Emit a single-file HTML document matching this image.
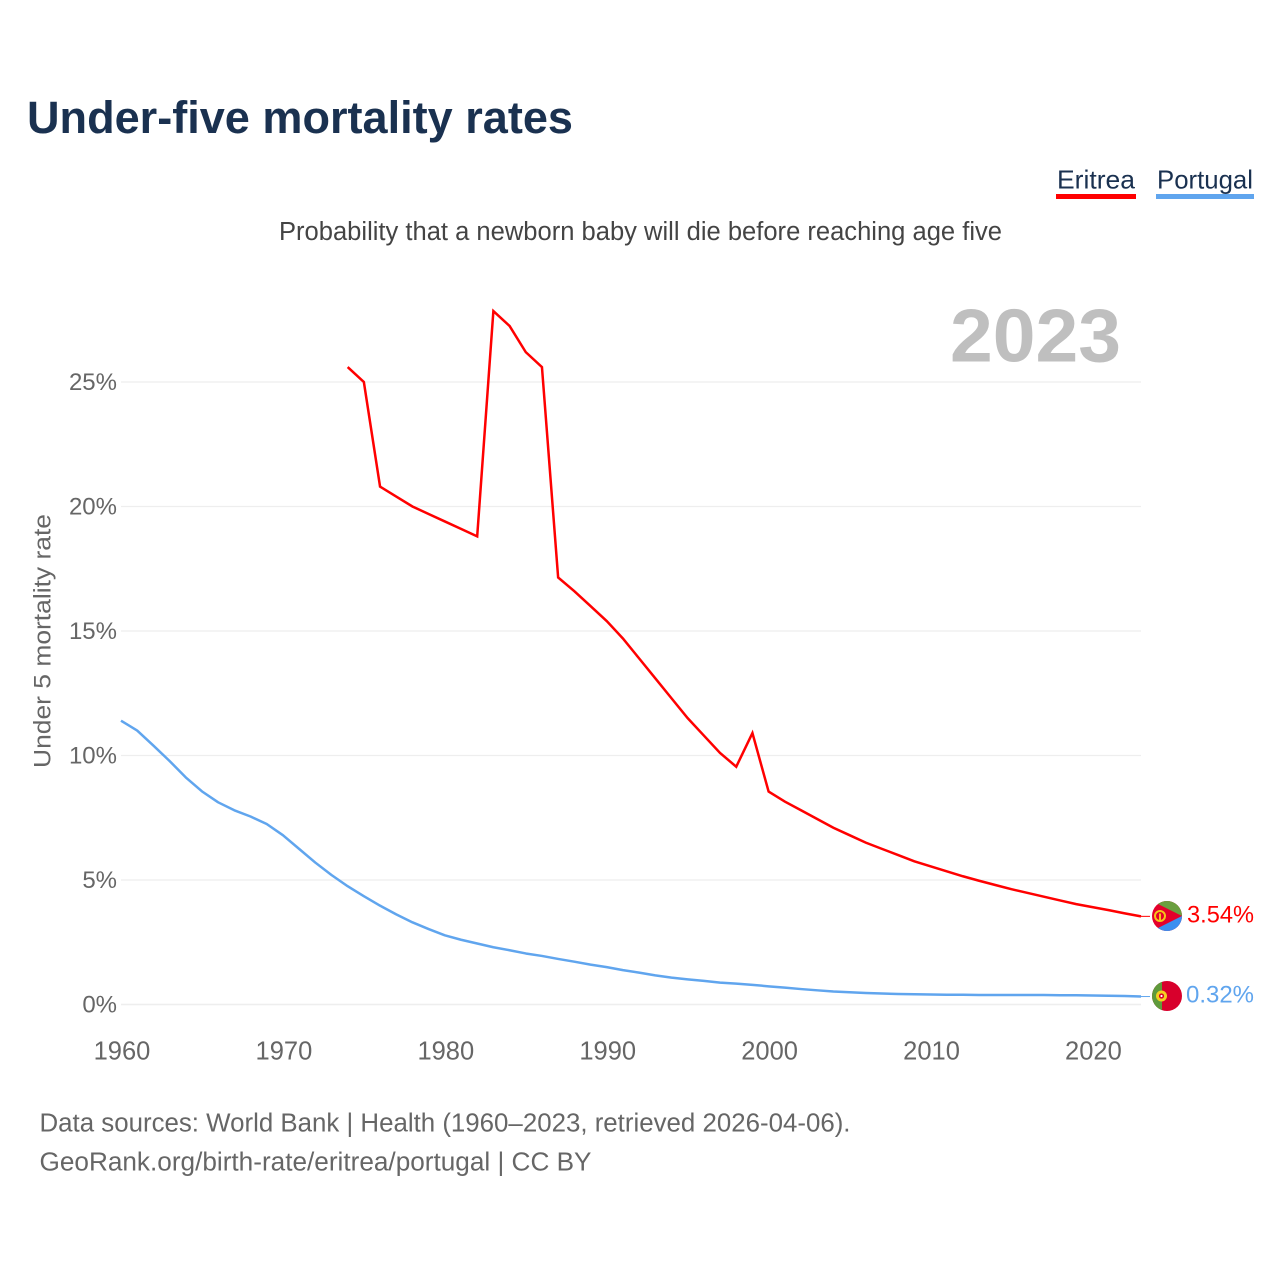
<!DOCTYPE html>
<html lang="en">
<head>
<meta charset="utf-8">
<title>Under-five mortality rates</title>
<style>
html,body{margin:0;padding:0;background:#fff;}
svg{display:block;}
text{font-family:"Liberation Sans",sans-serif;}
</style>
</head>
<body>
<svg id="chart" xmlns="http://www.w3.org/2000/svg" width="1280" height="1280" viewBox="0 0 1280 1280">
  <rect x="0" y="0" width="1280" height="1280" fill="#ffffff"/>
  <text x="27" y="133" font-size="45" font-weight="700" fill="#1a3150" textLength="546" lengthAdjust="spacingAndGlyphs">Under-five mortality rates</text>
  <g>
    <text x="1057" y="188.5" font-size="26" fill="#1a3150" textLength="78" lengthAdjust="spacingAndGlyphs">Eritrea</text>
    <rect x="1056" y="194" width="80" height="5" fill="#ff0000"/>
  </g>
  <g>
    <text x="1157" y="188.5" font-size="26" fill="#1a3150" textLength="96" lengthAdjust="spacingAndGlyphs">Portugal</text>
    <rect x="1156" y="194" width="98" height="5" fill="#60a5ee"/>
  </g>
  <text x="279" y="240" font-size="25.5" fill="#444444" textLength="723" lengthAdjust="spacingAndGlyphs">Probability that a newborn baby will die before reaching age five</text>
  <g id="grid"></g>
  <g id="yticks"></g>
  <g id="xticks"></g>
  <text transform="translate(50.5 768) rotate(-90)" x="0" y="0" font-size="24" fill="#666666" textLength="254" lengthAdjust="spacingAndGlyphs">Under 5 mortality rate</text>
  <text x="950" y="361.5" font-size="75" font-weight="700" fill="#bfbfbf" textLength="171" lengthAdjust="spacingAndGlyphs">2023</text>
  <g id="series"></g>

  <defs>
    <clipPath id="clip-er"><circle cx="1167" cy="916" r="15"/></clipPath>
    <clipPath id="clip-pt"><circle cx="1167" cy="996" r="15"/></clipPath>
  </defs>
  <g clip-path="url(#clip-er)">
    <rect x="1152" y="901" width="30" height="30" fill="#e4002b"/>
    <polygon points="1152,901 1182,901 1182,916" fill="#6a9f3f"/>
    <polygon points="1152,931 1182,931 1182,916" fill="#3b8ff0"/>
    <circle cx="1160" cy="916" r="5" fill="none" stroke="#f5c518" stroke-width="2"/>
    <rect x="1159" y="913.5" width="2" height="7" fill="#f5c518"/>
  </g>
  <g clip-path="url(#clip-pt)">
    <rect x="1152" y="981" width="30" height="30" fill="#d8002c"/>
    <rect x="1152" y="981" width="10" height="30" fill="#5f9a3c"/>
    <circle cx="1161.5" cy="996" r="5.5" fill="#f5d020"/>
    <circle cx="1161.5" cy="996" r="2.6" fill="#d8002c"/>
    <circle cx="1161.5" cy="996" r="1.1" fill="#ffffff"/>
  </g>
  <text x="1187" y="922.5" font-size="24.5" fill="#ff0000" textLength="67" lengthAdjust="spacingAndGlyphs">3.54%</text>
  <text x="1186" y="1002.5" font-size="24.5" fill="#60a5ee" textLength="68" lengthAdjust="spacingAndGlyphs">0.32%</text>
  <text x="39.5" y="1131.5" font-size="25.5" fill="#666666" textLength="811" lengthAdjust="spacingAndGlyphs">Data sources: World Bank | Health (1960–2023, retrieved 2026-04-06).</text>
  <text x="39.5" y="1170.5" font-size="25.5" fill="#666666" textLength="552" lengthAdjust="spacingAndGlyphs">GeoRank.org/birth-rate/eritrea/portugal | CC BY</text>
</svg>
<script>
const yTickValues = [0, 5, 10, 15, 20, 25];
const xTickYears = [1960, 1970, 1980, 1990, 2000, 2010, 2020];
const eritreaStartYear = 1974;
const eritreaValues = [25.6, 25.0, 20.8, 20.4, 20.0, 19.7, 19.4, 19.1, 18.8, 27.85, 27.25, 26.2, 25.6, 17.15, 16.6, 16.0, 15.4, 14.7, 13.9, 13.1, 12.3, 11.5, 10.8, 10.1, 9.55, 10.9, 8.55, 8.15, 7.8, 7.45, 7.1, 6.8, 6.5, 6.25, 6.0, 5.75, 5.55, 5.35, 5.15, 4.97, 4.8, 4.63, 4.48, 4.33, 4.18, 4.03, 3.91, 3.79, 3.66, 3.54];
const portugalStartYear = 1960;
const portugalValues = [11.4, 11.0, 10.4, 9.78, 9.12, 8.56, 8.12, 7.8, 7.55, 7.25, 6.8, 6.25, 5.7, 5.2, 4.75, 4.35, 3.97, 3.62, 3.3, 3.03, 2.78, 2.6, 2.45, 2.3, 2.18, 2.05, 1.95, 1.83, 1.72, 1.6, 1.5, 1.38, 1.28, 1.17, 1.08, 1.01, 0.95, 0.88, 0.84, 0.79, 0.73, 0.68, 0.62, 0.57, 0.52, 0.49, 0.46, 0.44, 0.42, 0.41, 0.4, 0.39, 0.39, 0.38, 0.38, 0.38, 0.38, 0.38, 0.37, 0.37, 0.36, 0.35, 0.34, 0.32];

const NS = 'http://www.w3.org/2000/svg';
function xScale(year) { return 121 + (year - 1960) * (1141 - 121) / 63; }
function yScale(value) { return 1004.5 - value * 24.9; }

const grid = document.getElementById('grid');
const yticks = document.getElementById('yticks');
const xticks = document.getElementById('xticks');
const series = document.getElementById('series');

yTickValues.forEach(function (v) {
  const line = document.createElementNS(NS, 'line');
  
  
  line.setAttribute('x1', 121);
  line.setAttribute('x2', 1141);
  line.setAttribute('y1', yScale(v));
  line.setAttribute('y2', yScale(v));
  line.setAttribute('stroke', '#eeeeee');
  line.setAttribute('stroke-width', v === 0 ? 1.6 : 1.2);
  grid.appendChild(line);

  const label = document.createElementNS(NS, 'text');
  
  
  label.setAttribute('x', 117);
  label.setAttribute('y', yScale(v) + 8);
  label.setAttribute('text-anchor', 'end');
  label.setAttribute('font-size', '24');
  label.setAttribute('fill', '#666666');
  label.textContent = v + '%';
  yticks.appendChild(label);
});

xTickYears.forEach(function (yr) {
  const label = document.createElementNS(NS, 'text');
  
  
  label.setAttribute('x', xScale(yr) + 1);
  label.setAttribute('y', 1059.5);
  label.setAttribute('text-anchor', 'middle');
  label.setAttribute('font-size', '25.5');
  label.setAttribute('fill', '#666666');
  label.textContent = yr;
  xticks.appendChild(label);
});

function pointsFor(startYear, values) {
  return values.map(function (v, i) {
    return xScale(startYear + i).toFixed(2) + ',' + yScale(v).toFixed(2);
  }).join(' ');
}

const portugalLine = document.createElementNS(NS, 'polyline');


portugalLine.setAttribute('points', pointsFor(portugalStartYear, portugalValues));
portugalLine.setAttribute('fill', 'none');
portugalLine.setAttribute('stroke', '#60a5ee');
portugalLine.setAttribute('stroke-width', '2.5');
portugalLine.setAttribute('stroke-linejoin', 'round');
series.appendChild(portugalLine);

const eritreaLine = document.createElementNS(NS, 'polyline');


eritreaLine.setAttribute('points', pointsFor(eritreaStartYear, eritreaValues));
eritreaLine.setAttribute('fill', 'none');
eritreaLine.setAttribute('stroke', '#ff0000');
eritreaLine.setAttribute('stroke-width', '2.5');
eritreaLine.setAttribute('stroke-linejoin', 'miter');
series.appendChild(eritreaLine);

const eritreaLeader = document.createElementNS(NS, 'line');


eritreaLeader.setAttribute('x1', 1141);
eritreaLeader.setAttribute('x2', 1150);
eritreaLeader.setAttribute('y1', yScale(eritreaValues[eritreaValues.length - 1]));
eritreaLeader.setAttribute('y2', yScale(eritreaValues[eritreaValues.length - 1]));
eritreaLeader.setAttribute('stroke', '#ff0000');
eritreaLeader.setAttribute('stroke-width', '1');
series.appendChild(eritreaLeader);

const portugalLeader = document.createElementNS(NS, 'line');


portugalLeader.setAttribute('x1', 1141);
portugalLeader.setAttribute('x2', 1150);
portugalLeader.setAttribute('y1', yScale(portugalValues[portugalValues.length - 1]));
portugalLeader.setAttribute('y2', yScale(portugalValues[portugalValues.length - 1]));
portugalLeader.setAttribute('stroke', '#60a5ee');
portugalLeader.setAttribute('stroke-width', '1');
series.appendChild(portugalLeader);
</script>
</body>
</html>
